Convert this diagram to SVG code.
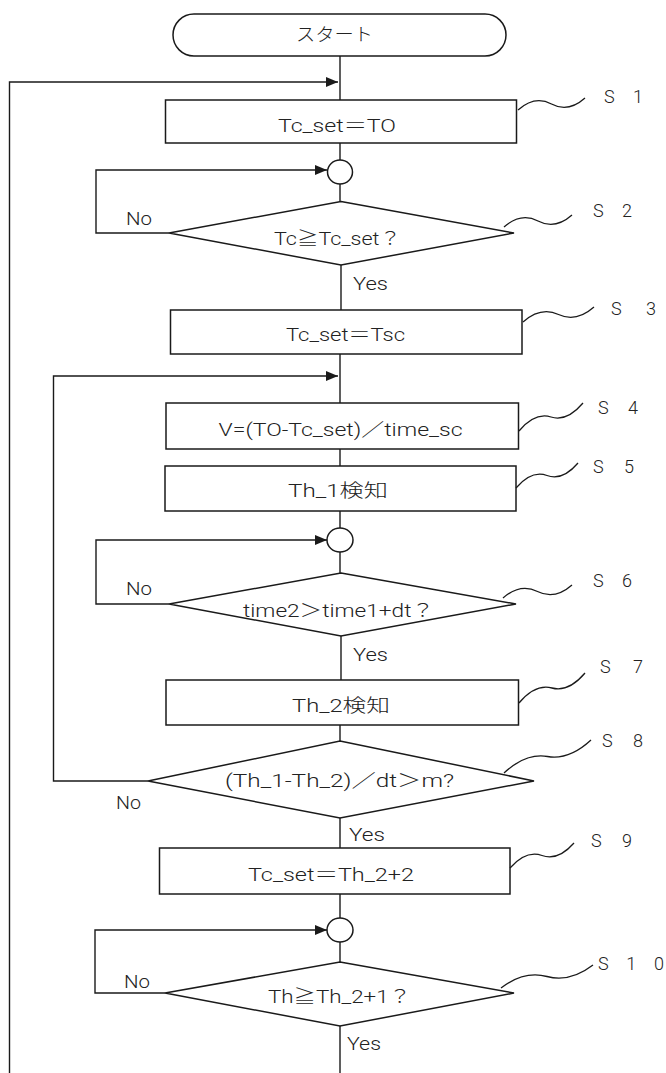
<svg xmlns="http://www.w3.org/2000/svg" width="666" height="1073" viewBox="0 0 666 1073">
<style>
.shape{fill:#fff;stroke:#1a1a1a;stroke-width:1.5}
.line{fill:none;stroke:#1a1a1a;stroke-width:1.4}
.wave{fill:none;stroke:#1a1a1a;stroke-width:1.3}
text{font-family:Roboto,"Liberation Sans","Noto Sans CJK JP",sans-serif;font-weight:300;font-size:18px;fill:#222}
.lbl{font-size:18px}
</style>
<defs>
<marker id="arr" markerUnits="userSpaceOnUse" markerWidth="13" markerHeight="11" refX="12" refY="5" orient="auto">
<path d="M0,0 L12,5 L0,10 z" fill="#1a1a1a"/>
</marker>
</defs>
<g id="connectors">
<path class="line" d="M340,56 V100"/>
<path class="line" d="M9.5,1073 V82 H338" marker-end="url(#arr)"/>
<path class="line" d="M340,143 V160"/>
<path class="line" d="M340,184 V201.5"/>
<path class="line" d="M169,233 H96 V170 H327" marker-end="url(#arr)"/>
<path class="line" d="M341,265 V310"/>
<path class="line" d="M340,354 V403"/>
<path class="line" d="M148,781 H53.5 V376 H338" marker-end="url(#arr)"/>
<path class="line" d="M340,449 V466"/>
<path class="line" d="M340,511 V528"/>
<path class="line" d="M340,552 V573"/>
<path class="line" d="M169,604 H96 V540 H327" marker-end="url(#arr)"/>
<path class="line" d="M341,636 V680"/>
<path class="line" d="M340,725 V741"/>
<path class="line" d="M340,818 V848"/>
<path class="line" d="M340,894 V918"/>
<path class="line" d="M340,942 V962"/>
<path class="line" d="M165,993 H95 V930 H327" marker-end="url(#arr)"/>
<path class="line" d="M340,1026 V1073"/>
</g>
<g id="start">
<rect class="shape" x="173" y="14" width="333" height="42" rx="21" ry="21"/>
<text x="296" y="41" textLength="77" lengthAdjust="spacingAndGlyphs">スタート</text>
</g>
<g id="S1">
<rect class="shape" x="165.5" y="100" width="351" height="43"/>
<text x="278" y="131.5" textLength="118" lengthAdjust="spacingAndGlyphs">Tc_set＝TO</text>
<path class="wave" d="M518,110 Q534.8,95 551.5,104 T585,98"/>
<text class="lbl" x="604" y="103" textLength="39" lengthAdjust="spacing">S 1</text>
</g>
<g id="J1"><ellipse class="shape" cx="340" cy="172" rx="12.5" ry="12"/></g>
<g id="S2">
<polygon class="shape" points="341,201.5 514,233 341,265 169,233"/>
<text x="274" y="245" textLength="127" lengthAdjust="spacingAndGlyphs">Tc≧Tc_set？</text>
<path class="wave" d="M504,227 Q521,212 538,221 T572,215"/>
<text class="lbl" x="593" y="216.5" textLength="39" lengthAdjust="spacing">S 2</text>
<text class="lbl" x="126" y="225" textLength="26" lengthAdjust="spacingAndGlyphs">No</text>
<text class="lbl" x="353" y="290" textLength="35" lengthAdjust="spacingAndGlyphs">Yes</text>
</g>
<g id="S3">
<rect class="shape" x="170.5" y="310" width="351.5" height="44"/>
<text x="286" y="341" textLength="119" lengthAdjust="spacingAndGlyphs">Tc_set＝Tsc</text>
<path class="wave" d="M523,322 Q540.8,306.3 558.5,314.5 T594,307"/>
<text class="lbl" x="611" y="315" textLength="45" lengthAdjust="spacing">S 3</text>
</g>
<g id="S4">
<rect class="shape" x="166" y="403" width="352.5" height="46"/>
<text x="218.5" y="436" textLength="244" lengthAdjust="spacingAndGlyphs">V=(TO-Tc_set)／time_sc</text>
<path class="wave" d="M519,431 Q535,412 551,417 T583,403"/>
<text class="lbl" x="598" y="414" textLength="40" lengthAdjust="spacing">S 4</text>
</g>
<g id="S5">
<rect class="shape" x="165" y="466" width="351" height="45"/>
<text x="288" y="497" textLength="100" lengthAdjust="spacingAndGlyphs">Th_1検知</text>
<path class="wave" d="M516,488 Q531.5,469.8 547,475.5 T578,463"/>
<text class="lbl" x="593" y="473" textLength="41" lengthAdjust="spacing">S 5</text>
</g>
<g id="J2"><ellipse class="shape" cx="340" cy="540" rx="13" ry="12"/></g>
<g id="S6">
<polygon class="shape" points="341,573 516,604 341,636 169,604"/>
<text x="243" y="617" textLength="191" lengthAdjust="spacingAndGlyphs">time2＞time1+dt？</text>
<path class="wave" d="M503,598 Q520.3,582.8 537.5,591.5 T572,585"/>
<text class="lbl" x="593" y="586.5" textLength="39" lengthAdjust="spacing">S 6</text>
<text class="lbl" x="126" y="595" textLength="26" lengthAdjust="spacingAndGlyphs">No</text>
<text class="lbl" x="353" y="661" textLength="35" lengthAdjust="spacingAndGlyphs">Yes</text>
</g>
<g id="S7">
<rect class="shape" x="166" y="680" width="352.5" height="45"/>
<text x="292" y="712" textLength="98" lengthAdjust="spacingAndGlyphs">Th_2検知</text>
<path class="wave" d="M519,703 Q535.5,683.5 552,688 T585,673"/>
<text class="lbl" x="600" y="672.5" textLength="43" lengthAdjust="spacing">S 7</text>
</g>
<g id="S8">
<polygon class="shape" points="340,741 534,781 340,818 148,781"/>
<text x="225" y="787" textLength="229" lengthAdjust="spacingAndGlyphs">(Th_1-Th_2)／dt＞m?</text>
<path class="wave" d="M504,773 Q525.8,752.8 547.5,756.5 T591,740"/>
<text class="lbl" x="602" y="746.5" textLength="41" lengthAdjust="spacing">S 8</text>
<text class="lbl" x="116" y="809" textLength="25" lengthAdjust="spacingAndGlyphs">No</text>
<text class="lbl" x="349" y="841" textLength="36" lengthAdjust="spacingAndGlyphs">Yes</text>
</g>
<g id="S9">
<rect class="shape" x="159.5" y="848" width="350.5" height="46"/>
<text x="248" y="881" textLength="166" lengthAdjust="spacingAndGlyphs">Tc_set＝Th_2+2</text>
<path class="wave" d="M510,868 Q526,849.8 542,855.5 T574,843"/>
<text class="lbl" x="591" y="847" textLength="41" lengthAdjust="spacing">S 9</text>
</g>
<g id="J3"><ellipse class="shape" cx="340" cy="930" rx="13" ry="12"/></g>
<g id="S10">
<polygon class="shape" points="340,962 514,993 340,1026 165,993"/>
<text x="268" y="1003" textLength="143" lengthAdjust="spacingAndGlyphs">Th≧Th_2+1？</text>
<path class="wave" d="M501,988 Q524,970.3 547,976.5 T593,965"/>
<text class="lbl" x="598" y="970" textLength="66" lengthAdjust="spacing">S 1 0</text>
<text class="lbl" x="124" y="988" textLength="26" lengthAdjust="spacingAndGlyphs">No</text>
<text class="lbl" x="347" y="1050" textLength="34" lengthAdjust="spacingAndGlyphs">Yes</text>
</g>
</svg>
